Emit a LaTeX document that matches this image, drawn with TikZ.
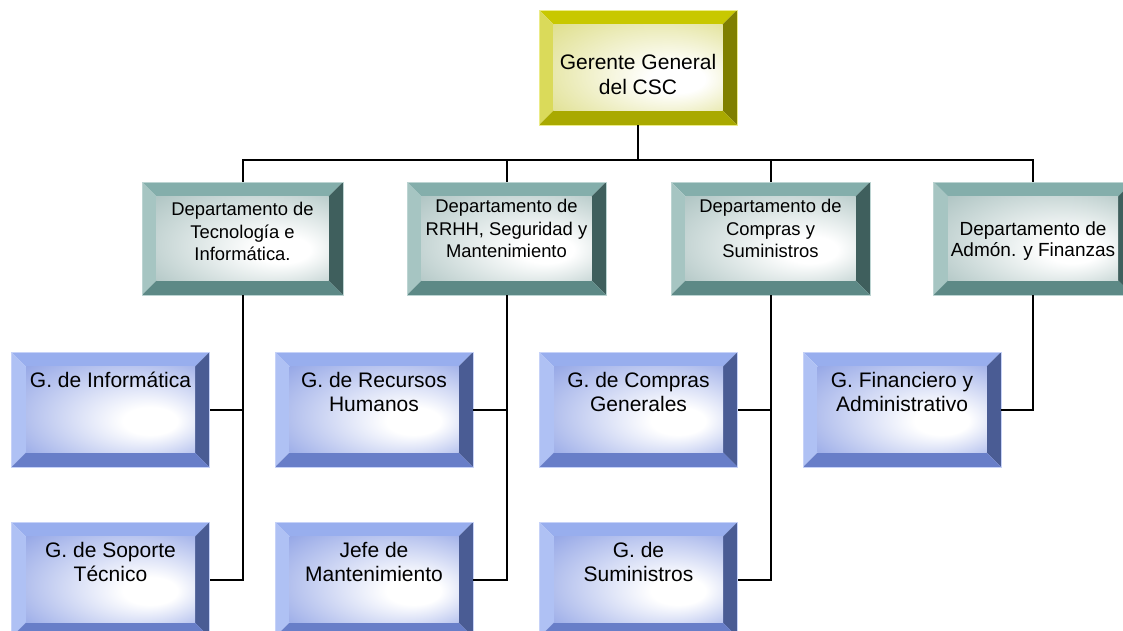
\documentclass[tikz,border=0pt]{standalone}
\usepackage{fontspec}
\setmainfont{Liberation Sans}

\definecolor{goldtop}{HTML}{C8C800}
\definecolor{goldleft}{HTML}{DADA5A}
\definecolor{goldright}{HTML}{7F7F00}
\definecolor{goldbot}{HTML}{A9A900}
\definecolor{goldline}{HTML}{ECEC88}
\definecolor{goldsoft}{HTML}{D4D466}
\definecolor{tealtop}{HTML}{84AEAB}
\definecolor{tealleft}{HTML}{A6C5C2}
\definecolor{tealright}{HTML}{3F5F5D}
\definecolor{tealbot}{HTML}{5D8986}
\definecolor{tealline}{HTML}{BCD4D2}
\definecolor{tealsoft}{HTML}{94B1AF}
\definecolor{bluetop}{HTML}{98AEEE}
\definecolor{blueleft}{HTML}{AFC1F4}
\definecolor{blueright}{HTML}{4A5C94}
\definecolor{bluebot}{HTML}{687EC8}
\definecolor{blueline}{HTML}{C6D2F8}
\definecolor{bluesoft}{HTML}{7189DE}

\pgfdeclareradialshading{goldglow}{\pgfpoint{14bp}{-8bp}}{color(0bp)=(white); color(8bp)=(white); color(50bp)=(goldsoft)}
\pgfdeclareradialshading{tealglow}{\pgfpoint{14bp}{-8bp}}{color(0bp)=(white); color(8bp)=(white); color(50bp)=(tealsoft)}
\pgfdeclareradialshading{blueglow}{\pgfpoint{14bp}{-8bp}}{color(0bp)=(white); color(8bp)=(white); color(50bp)=(bluesoft)}

\def\bevw{14.5pt}
\newcommand{\bevelfill}[5]{%
  \fill[#1] (path picture bounding box.north west) -- (path picture bounding box.north east)
    -- ([shift={(-\bevw,-\bevw)}]path picture bounding box.north east)
    -- ([shift={(\bevw,-\bevw)}]path picture bounding box.north west) -- cycle;
  \fill[#2] (path picture bounding box.north west) -- ([shift={(\bevw,-\bevw)}]path picture bounding box.north west)
    -- ([shift={(\bevw,\bevw)}]path picture bounding box.south west)
    -- (path picture bounding box.south west) -- cycle;
  \fill[#3] (path picture bounding box.north east) -- (path picture bounding box.south east)
    -- ([shift={(-\bevw,\bevw)}]path picture bounding box.south east)
    -- ([shift={(-\bevw,-\bevw)}]path picture bounding box.north east) -- cycle;
  \fill[#4] (path picture bounding box.south west) -- ([shift={(\bevw,\bevw)}]path picture bounding box.south west)
    -- ([shift={(-\bevw,\bevw)}]path picture bounding box.south east)
    -- (path picture bounding box.south east) -- cycle;
  \shade[shading=#5] ([shift={(\bevw,-\bevw)}]path picture bounding box.north west)
    rectangle ([shift={(-\bevw,\bevw)}]path picture bounding box.south east);
}
\newcommand{\boxtxt}[3]{\parbox[c][#1][t]{190pt}{\centering\vspace*{#2}\strut #3}}

\tikzset{
  orgbox/.style={rectangle, inner sep=0pt, outer sep=0pt, line width=0.6pt},
  gerbox/.style={orgbox, draw=goldline, minimum width=198pt,
    font=\fontsize{21}{24.5}\selectfont,
    path picture={\bevelfill{goldtop}{goldleft}{goldright}{goldbot}{goldglow}}},
  deptbox/.style={orgbox, draw=tealline, minimum width=199pt,
    font=\fontsize{18.4}{22.5}\selectfont,
    path picture={\bevelfill{tealtop}{tealleft}{tealright}{tealbot}{tealglow}}},
  unitbox/.style={orgbox, draw=blueline, minimum width=198pt,
    font=\fontsize{21}{24}\selectfont,
    path picture={\bevelfill{bluetop}{blueleft}{blueright}{bluebot}{blueglow}}},
  link/.style={line width=2pt, black}
}

\begin{document}
\begin{tikzpicture}[x=1pt, y=-1pt]
    \useasboundingbox (0,0) rectangle (1123,630);

    \node[gerbox] (gg) at (638,67.5) {\boxtxt{115pt}{42.8pt}{Gerente General\\del CSC}};

    \node[deptbox, minimum width=201pt] (tec) at (242.5,238.5) {\boxtxt{113pt}{17.9pt}{Departamento de\\Tecnología e\\Informática.}};
    \node[deptbox] (rrhh) at (506.5,238.5) {\boxtxt{113pt}{14.8pt}{Departamento de\\RRHH, Seguridad y\\Mantenimiento}};
    \node[deptbox] (comp) at (770.5,238.5) {\boxtxt{113pt}{14.8pt}{Departamento de\\Compras y\\Suministros}};
    \node[deptbox, font=\fontsize{19}{20.5}\selectfont] (adm) at (1033,238.5) {\boxtxt{113pt}{39.6pt}{Departamento de\\Admón. y Finanzas}};

    \node[unitbox] (inf) at (110.5,409.5) {\boxtxt{115pt}{18.2pt}{G. de Informática}};
    \node[unitbox] (sop) at (110.5,579.5) {\boxtxt{115pt}{18.2pt}{G. de Soporte\\Técnico}};
    \node[unitbox] (rh) at (374,409.5) {\boxtxt{115pt}{18.2pt}{G. de Recursos\\Humanos}};
    \node[unitbox] (jefe) at (374,579.5) {\boxtxt{115pt}{18.2pt}{Jefe de\\Mantenimiento}};
    \node[unitbox] (cg) at (638.5,409.5) {\boxtxt{115pt}{18.2pt}{G. de Compras\\Generales}};
    \node[unitbox] (sum) at (638.5,579.5) {\boxtxt{115pt}{18.2pt}{G. de\\Suministros}};
    \node[unitbox] (fin) at (902,409.5) {\boxtxt{115pt}{18.2pt}{G. Financiero y\\Administrativo}};

    \coordinate (bus) at (638,160);
    \draw[link] (gg.south) -- (bus) -| (tec.north);
    \draw[link] (bus) -| (rrhh.north);
    \draw[link] (bus) -| (comp.north);
    \draw[link] (bus) -| (adm.north);

    \draw[link] (tec.south) |- (inf.east);
    \draw[link] (tec.south) |- (sop.east);
    \draw[link] (rrhh.south) |- (rh.east);
    \draw[link] (rrhh.south) |- (jefe.east);
    \draw[link] (comp.south) |- (cg.east);
    \draw[link] (comp.south) |- (sum.east);
    \draw[link] (adm.south) |- (fin.east);
\end{tikzpicture}
\end{document}
